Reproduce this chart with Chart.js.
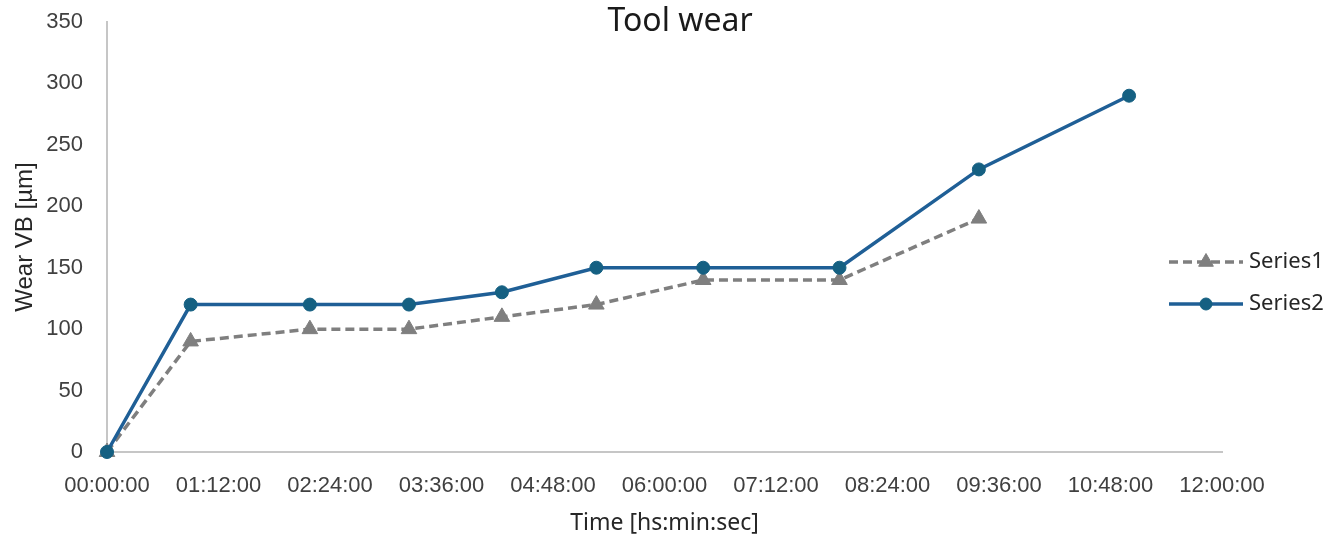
<!DOCTYPE html>
<html>
<head>
<meta charset="utf-8">
<script src="https://cdn.jsdelivr.net/npm/chart.js@4.4.1/dist/chart.umd.min.js"></script>
<style>
  html, body { margin: 0; padding: 0; background: #fff; }
  #wrap { width: 1339px; height: 539px; }
</style>
</head>
<body>
<div id="wrap"><canvas id="myChart" width="1339" height="539"></canvas></div>
<script>
// elapsed time of each measurement, in minutes
var times = [0, 54, 131, 195, 255, 316, 385, 473, 563, 660];
var series1 = [0, 90, 100, 100, 110, 120, 140, 140, 190];
var series2 = [0, 120, 120, 120, 130, 150, 150, 150, 230, 290];
var seriesNames = ['Series1', 'Series2'];
var xTickLabels = ['00:00:00', '01:12:00', '02:24:00', '03:36:00', '04:48:00', '06:00:00',
                   '07:12:00', '08:24:00', '09:36:00', '10:48:00', '12:00:00'];
var yTicks = [0, 50, 100, 150, 200, 250, 300, 350];

function toPoints(vals) {
    return vals.map(function (v, i) { return {x: times[i], y: v}; });
}

var titlePlugin = {
    id: 'topTitle',
    afterDraw: function (chart) {
        var ctx = chart.ctx;
        ctx.save();
        ctx.fillStyle = '#1a1a1a';
        ctx.font = '32px "Noto Sans"';
        ctx.textAlign = 'center';
        ctx.textBaseline = 'middle';
        ctx.fillText('Tool wear', 680, 22);
        ctx.restore();
    }
};

var legendPlugin = {
    id: 'sideLegend',
    afterDraw: function (chart) {
        var ctx = chart.ctx;
        var rows = [262, 304];
        chart.data.datasets.forEach(function (ds, i) {
            var y = rows[i];
            ctx.save();
            ctx.strokeStyle = ds.borderColor;
            ctx.lineWidth = ds.borderWidth;
            ctx.setLineDash(ds.borderDash || []);
            ctx.beginPath();
            ctx.moveTo(1169, y);
            ctx.lineTo(1243, y);
            ctx.stroke();
            ctx.setLineDash([]);
            ctx.fillStyle = ds.pointBackgroundColor;
            ctx.strokeStyle = ds.pointBorderColor;
            ctx.lineWidth = 1;
            Chart.helpers.drawPoint(ctx, {pointStyle: ds.pointStyle, radius: ds.pointRadius - 0.5, borderWidth: 1, rotation: 0}, 1206, y);
            ctx.fillStyle = '#262626';
            ctx.font = '22px "Noto Sans"';
            ctx.textAlign = 'left';
            ctx.textBaseline = 'middle';
            ctx.fillText(ds.label, 1249, y);
            ctx.restore();
        });
    }
};

function renderChart() {
    var ctx = document.getElementById('myChart').getContext('2d');
    var myChart = new Chart(ctx, {
        type: 'line',
        data: {
            datasets: [{
                label: seriesNames[0],
                data: toPoints(series1),
                order: 1,
                borderColor: '#7f7f7f',
                borderWidth: 3.5,
                borderDash: [9, 5],
                pointStyle: 'triangle',
                pointRadius: 9,
                pointBackgroundColor: '#7f7f7f',
                pointBorderColor: '#7f7f7f',
                pointBorderWidth: 1,
                tension: 0,
                clip: false
            }, {
                label: seriesNames[1],
                data: toPoints(series2),
                order: 0,
                borderColor: '#1f5f96',
                borderWidth: 3.5,
                pointStyle: 'circle',
                pointRadius: 6.5,
                pointBackgroundColor: '#156082',
                pointBorderColor: '#156082',
                pointBorderWidth: 1,
                tension: 0,
                clip: false
            }]
        },
        options: {
            responsive: false,
            animation: false,
            layout: { padding: { left: 0, right: 117, top: 22, bottom: 0 } },
            plugins: {
                legend: { display: false },
                title: { display: false },
                tooltip: { enabled: false }
            },
            scales: {
                x: {
                    type: 'linear',
                    min: 0,
                    max: 720,
                    afterBuildTicks: function (axis) {
                        axis.ticks = xTickLabels.map(function (l, i) { return {value: i * 72}; });
                    },
                    afterFit: function (axis) { axis.height = 87; },
                    grid: { display: false, drawTicks: false },
                    border: { display: true, color: '#c6c6c6', width: 2 },
                    ticks: {
                        padding: 21,
                        maxRotation: 0,
                        autoSkip: false,
                        color: '#404040',
                        font: { family: '"Liberation Sans"', size: 22 },
                        callback: function (v, i) { return xTickLabels[i]; }
                    },
                    title: {
                        display: true,
                        text: 'Time [hs:min:sec]',
                        color: '#262626',
                        font: { family: '"Noto Sans"', size: 23 },
                        padding: { top: 0, bottom: 2 }
                    }
                },
                y: {
                    min: 0,
                    max: 350,
                    afterBuildTicks: function (axis) {
                        axis.ticks = yTicks.map(function (v) { return {value: v}; });
                    },
                    afterFit: function (axis) {
                        axis.width = 107;
                        axis.paddingTop = 0;
                        axis.paddingBottom = 0;
                    },
                    grid: { display: false, drawTicks: false },
                    border: { display: true, color: '#c6c6c6', width: 2 },
                    ticks: {
                        padding: 24,
                        color: '#404040',
                        font: { family: '"Liberation Sans"', size: 22 }
                    },
                    title: {
                        display: true,
                        text: 'Wear VB [µm]',
                        color: '#262626',
                        font: { family: '"Liberation Sans"', size: 24 },
                        padding: { top: 11, bottom: 0 }
                    }
                }
            }
        },
        plugins: [titlePlugin, legendPlugin]
    });
    return myChart;
}

renderChart();
</script>
</body>
</html>
